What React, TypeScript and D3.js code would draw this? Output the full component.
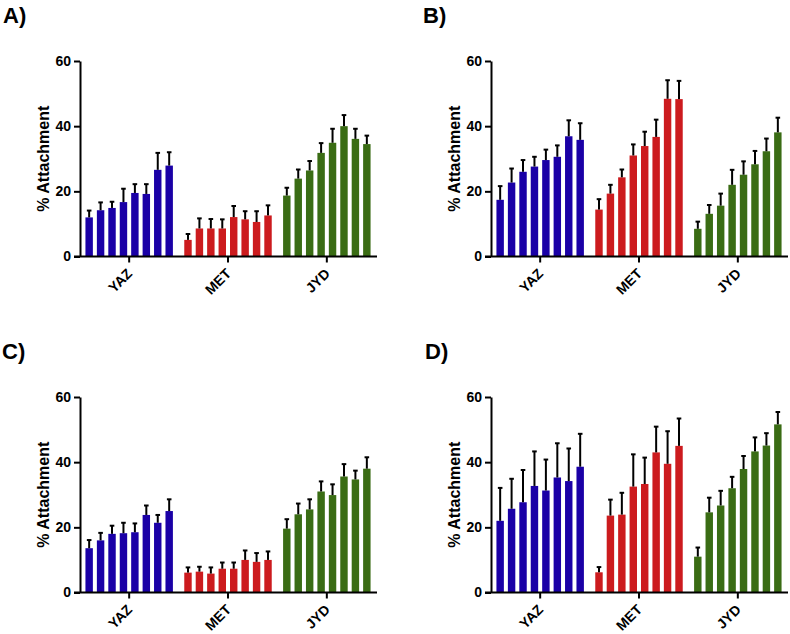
import { useEffect, useRef } from 'react';
import * as d3 from 'd3';

const groups = ['YAZ', 'MET', 'JYD'];
const groupColors = ['#1a00a6', '#cc1b1e', '#3a6c14'];
const panelLabels = ['A)', 'B)', 'C)', 'D)'];
const yTicks = [0, 20, 40, 60];

// means per group (YAZ, MET, JYD), 8 bars each
const meansA = [
  [12.0, 14.2, 14.9, 16.7, 19.5, 19.2, 26.6, 27.9],
  [5.1, 8.6, 8.6, 8.6, 12.1, 11.4, 10.6, 12.6],
  [18.7, 23.9, 26.4, 31.8, 34.9, 40.0, 36.1, 34.5],
];
const errsA = [
  [2.1, 2.4, 1.9, 4.1, 2.7, 3.0, 5.2, 4.1],
  [1.8, 3.1, 2.9, 2.8, 3.4, 2.5, 3.3, 3.1],
  [2.4, 2.8, 2.9, 3.0, 4.3, 3.4, 3.1, 2.6],
];
const meansB = [
  [17.4, 22.7, 26.0, 27.6, 29.6, 30.6, 36.9, 35.8],
  [14.4, 19.3, 24.3, 31.0, 33.9, 36.7, 48.4, 48.3],
  [8.5, 13.1, 15.6, 22.0, 25.1, 28.3, 32.3, 38.1],
];
const errsB = [
  [4.2, 4.3, 3.6, 3.0, 3.2, 3.5, 4.9, 5.1],
  [3.2, 2.7, 2.4, 3.4, 4.4, 5.3, 5.7, 5.6],
  [2.2, 2.7, 3.7, 4.6, 4.1, 4.1, 3.9, 4.5],
];
const meansC = [
  [13.6, 16.0, 18.0, 18.2, 18.5, 23.8, 21.4, 25.0],
  [6.1, 6.4, 5.8, 7.3, 7.3, 10.0, 9.4, 10.0],
  [19.6, 24.0, 25.5, 31.0, 29.9, 35.6, 34.7, 38.0],
];
const errsC = [
  [2.5, 2.3, 2.5, 3.2, 2.7, 2.9, 2.4, 3.6],
  [1.6, 1.5, 1.9, 1.9, 1.9, 2.9, 2.7, 2.6],
  [2.9, 3.3, 3.1, 3.1, 3.3, 3.8, 2.7, 3.5],
];
const meansD = [
  [22.0, 25.7, 27.7, 32.7, 31.3, 35.3, 34.2, 38.6],
  [6.2, 23.6, 23.9, 32.5, 33.3, 43.0, 39.5, 45.0],
  [11.0, 24.6, 26.7, 32.0, 37.9, 43.3, 45.1, 51.6],
];
const errsD = [
  [10.1, 9.2, 9.9, 10.6, 9.5, 10.5, 10.0, 10.1],
  [1.6, 4.9, 6.7, 9.9, 8.1, 7.9, 10.0, 8.4],
  [2.8, 4.5, 4.5, 3.5, 4.0, 4.3, 3.8, 3.8],
];

const panelMeans = [meansA, meansB, meansC, meansD];
const panelErrs = [errsA, errsB, errsC, errsD];

const FONT = '"Liberation Sans", Arial, Helvetica, sans-serif';

export default function App() {
  const svgRef = useRef<SVGSVGElement>(null);

  useEffect(() => {
    if (!svgRef.current) return;
    const svg = d3.select(svgRef.current);
    svg.selectAll('*').remove();

    const offsets = [
      { x: 0, y: 0, lx: 3 },
      { x: 411, y: 0, lx: 423 },
      { x: 0, y: 336, lx: 2 },
      { x: 411, y: 336, lx: 425 },
    ];

    const top = 61;
    const bottom = 256.5;
    const axisX = 80;
    const right = 377;

    const yScale = d3.scaleLinear().domain([0, 60]).range([bottom, top]);
    const x0 = d3.scaleBand<string>()
      .domain(groups)
      .range([80.5, 375.5])
      .paddingInner(0.115)
      .paddingOuter(0.05);
    const x1 = d3.scaleBand<number>()
      .domain(d3.range(8))
      .range([0, x0.bandwidth()])
      .paddingInner(0.35)
      .paddingOuter(0);

    offsets.forEach((off, p) => {
      // panel label
      svg.append('text')
        .attr('x', off.lx)
        .attr('y', off.y + 23)
        .attr('font-family', FONT)
        .attr('font-weight', 'bold')
        .attr('font-size', '22px')
        .attr('fill', '#000')
        .text(panelLabels[p]);

      const g = svg.append('g').attr('transform', `translate(${off.x}, ${off.y})`);

      // bars + error bars
      groups.forEach((grp, gi) => {
        const means = panelMeans[p][gi];
        const errs = panelErrs[p][gi];
        means.forEach((m, i) => {
          const bx = (x0(grp) || 0) + (x1(i) || 0);
          const bw = x1.bandwidth();
          const cx = bx + bw / 2;
          g.append('rect')
            .attr('x', bx)
            .attr('y', yScale(m))
            .attr('width', bw)
            .attr('height', bottom - yScale(m))
            .attr('fill', groupColors[gi]);
          g.append('line')
            .attr('x1', cx).attr('x2', cx)
            .attr('y1', yScale(m))
            .attr('y2', yScale(m + errs[i]))
            .attr('stroke', '#000')
            .attr('stroke-width', 2);
          g.append('line')
            .attr('x1', cx - 2.3).attr('x2', cx + 2.3)
            .attr('y1', yScale(m + errs[i]))
            .attr('y2', yScale(m + errs[i]))
            .attr('stroke', '#000')
            .attr('stroke-width', 2);
        });
      });

      // Y axis
      const yAxis = g.append('g')
        .attr('transform', `translate(${axisX}, 0)`)
        .call(d3.axisLeft(yScale).tickValues(yTicks).tickSize(6).tickSizeOuter(0).tickPadding(3));
      yAxis.select('.domain').attr('stroke', '#000').attr('stroke-width', 2);
      yAxis.selectAll('.tick line').attr('stroke', '#000').attr('stroke-width', 2);
      yAxis.selectAll('.tick text')
        .attr('font-family', FONT)
        .attr('font-weight', 'bold')
        .attr('font-size', '14px')
        .attr('fill', '#000');

      // X axis
      g.append('line')
        .attr('x1', axisX - 6).attr('x2', right)
        .attr('y1', bottom).attr('y2', bottom)
        .attr('stroke', '#000')
        .attr('stroke-width', 2);

      groups.forEach(grp => {
        const cx = (x0(grp) || 0) + x0.bandwidth() / 2;
        g.append('line')
          .attr('x1', cx).attr('x2', cx)
          .attr('y1', bottom).attr('y2', bottom + 6)
          .attr('stroke', '#000')
          .attr('stroke-width', 2);
        g.append('text')
          .attr('transform', `translate(${cx + 4}, ${bottom + 18}) rotate(-45)`)
          .attr('text-anchor', 'end')
          .attr('font-family', FONT)
          .attr('font-weight', 'bold')
          .attr('font-size', '14px')
          .attr('fill', '#000')
          .text(grp);
      });

      // Y axis label
      g.append('text')
        .attr('transform', 'rotate(-90)')
        .attr('x', -(top + bottom) / 2)
        .attr('y', 49)
        .attr('text-anchor', 'middle')
        .attr('font-family', FONT)
        .attr('font-weight', 'bold')
        .attr('font-size', '16px')
        .attr('fill', '#000')
        .text('% Attachment');
    });
  }, []);

  return (
    <svg
      ref={svgRef}
      width={790}
      height={634}
      style={{ position: 'absolute', left: 0, top: 0, background: '#fff' }}
    />
  );
}
